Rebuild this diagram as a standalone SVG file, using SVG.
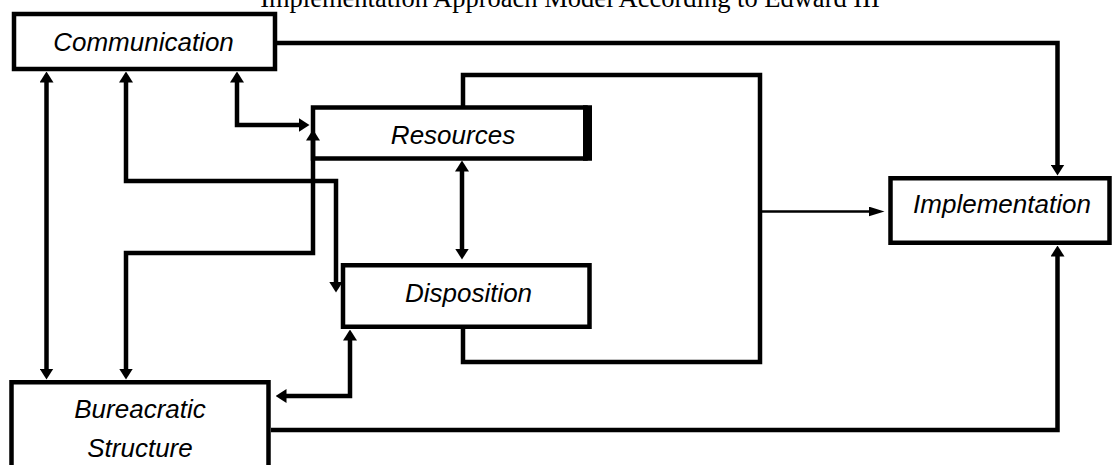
<svg xmlns="http://www.w3.org/2000/svg" width="1112" height="465" viewBox="0 0 1112 465">
  <style>
    .box { fill: #fff; stroke: #000; stroke-width: 4.5; }
    .lbl { font-family: "Liberation Sans", Arial, sans-serif; font-style: italic; font-size: 26px; fill: #000; text-anchor: middle; }
    .title { font-family: "Liberation Serif", "Times New Roman", serif; font-size: 26.5px; fill: #000; text-anchor: middle; }
    .conn { fill: none; stroke: #000; stroke-width: 4.5; stroke-linejoin: miter; stroke-linecap: butt; }
    .thin { fill: none; stroke: #000; stroke-width: 2.5; }
  </style>
  <defs>
    <marker id="ah" viewBox="0 0 11 14" refX="0.5" refY="7" markerWidth="11" markerHeight="14" markerUnits="userSpaceOnUse" orient="auto-start-reverse">
      <path d="M0,0 L11,7 L0,14 Z" fill="#000"/>
    </marker>
    <marker id="ahs" viewBox="0 0 16 10" refX="0.5" refY="5" markerWidth="16" markerHeight="10" markerUnits="userSpaceOnUse" orient="auto">
      <path d="M0,0 L16,5 L0,10 Z" fill="#000"/>
    </marker>
  </defs>
  <rect width="1112" height="465" fill="#fff"/>

  <text class="title" x="570" y="7">Implementation Approach Model According to Edward III</text>

  <g id="communication">
    <rect class="box" x="14" y="14" width="261" height="55"/>
    <text class="lbl" x="143.5" y="50.5">Communication</text>
  </g>

  <g id="resources">
    <rect class="box" x="313" y="107.5" width="272.5" height="51"/>
    <rect x="583" y="105.25" width="9" height="55.5" fill="#000"/>
    <text class="lbl" x="453" y="143.5">Resources</text>
  </g>

  <g id="disposition">
    <rect class="box" x="343" y="265.25" width="246.5" height="61.5"/>
    <text class="lbl" x="468.5" y="302">Disposition</text>
  </g>

  <g id="implementation">
    <rect class="box" x="890.5" y="178.25" width="219" height="64.5"/>
    <text class="lbl" x="1002" y="213">Implementation</text>
  </g>

  <g id="bureaucratic">
    <rect class="box" x="11.5" y="382.25" width="257" height="100"/>
    <text class="lbl" x="140" y="418">Bureacratic</text>
    <text class="lbl" x="140" y="457">Structure</text>
  </g>

  <g id="connectors">
    <path class="conn" d="M276,43 H1057.5 V165" marker-end="url(#ah)"/>
    <path class="conn" d="M46.5,82 V369" marker-start="url(#ah)" marker-end="url(#ah)"/>
    <path class="conn" d="M126,82 V181 H336 V282" marker-start="url(#ah)" marker-end="url(#ah)"/>
    <path class="conn" d="M237,82 V125 H299" marker-start="url(#ah)" marker-end="url(#ah)"/>
    <path class="conn" d="M126,369 V253 H313 V140" marker-start="url(#ah)" marker-end="url(#ah)"/>
    <path class="conn" d="M462,171 V249" marker-start="url(#ah)" marker-end="url(#ah)"/>
    <path class="conn" d="M463,106 V75 H760 V362 H463 V328"/>
    <path class="thin" d="M760,211.5 H869" marker-end="url(#ahs)"/>
    <path class="conn" d="M271,430 H1057.5 V256" marker-end="url(#ah)"/>
    <path class="conn" d="M350,340 V396 H286" marker-start="url(#ah)" marker-end="url(#ah)"/>
  </g>
</svg>
